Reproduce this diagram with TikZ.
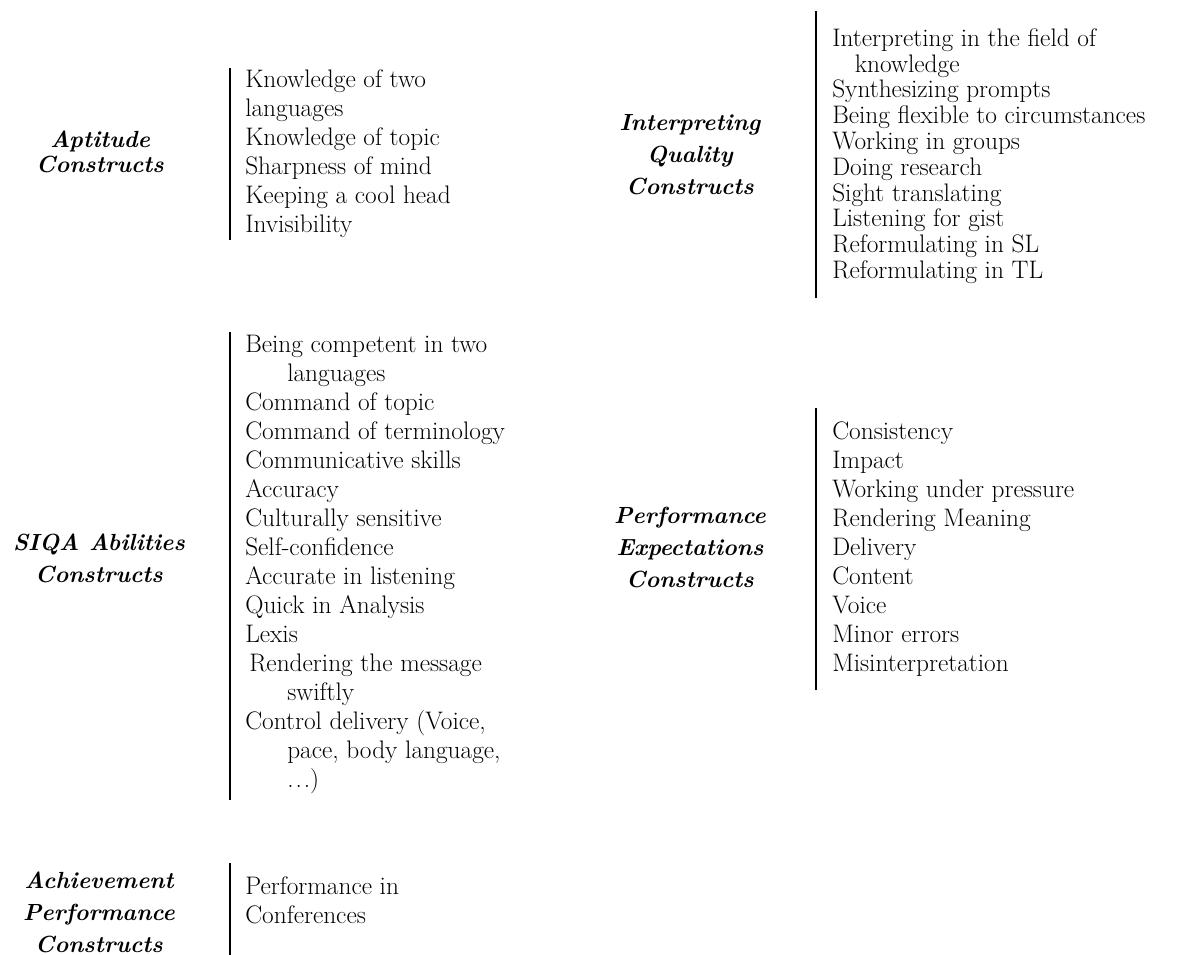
\documentclass[tikz,border=0pt]{standalone}
\usetikzlibrary{positioning}

\begin{document}
\begin{tikzpicture}[x=0.75pt,y=-0.75pt,
    every node/.style={inner sep=0pt},
    construct/.style={align=center,font=\fontsize{17.5}{24}\selectfont\bfseries\itshape},
    items/.style={anchor=west,align=left,font=\fontsize{19}{21.75}\selectfont},
    bar/.style={line width=1.5pt}
   ]
  \useasboundingbox (0,0) rectangle (1179,955);

  % left column
  \node[construct,font=\fontsize{17.5}{18.75}\selectfont\bfseries\itshape] (aptitude) at (100,152) {Aptitude\\Constructs};
  \draw[bar] (230,68) -- (230,240);
  \node[items] (aptitudeList) at (245,154) {Knowledge of two\\languages\\Knowledge of topic\\Sharpness of mind\\Keeping a cool head\\Invisibility};

  \node[construct] (siqa) at (99,558) {SIQA Abilities\\Constructs};
  \draw[bar] (230,332) -- (230,800);
  \node[items] (siqaList) at (245,565) {Being competent in two\\\hspace*{31.5pt}languages\\Command of topic\\Command of terminology\\Communicative skills\\Accuracy\\Culturally sensitive\\Self-confidence\\Accurate in listening\\Quick in Analysis\\Lexis\\\hspace*{3pt}Rendering the message\\\hspace*{31.5pt}swiftly\\Control delivery (Voice,\\\hspace*{31.5pt}pace, body language,\\\hspace*{31.5pt}.\kern1.5pt.\kern1.5pt.)};

  \node[construct] (achievement) at (99,912) {Achievement\\Performance\\Constructs};
  \draw[bar] (230,863) -- (230,955);
  \node[items] (achievementList) at (245,900) {Performance in\\Conferences};

  % right column
  \node[construct] (quality) at (690,155) {Interpreting\\Quality\\Constructs};
  \draw[bar] (816,11) -- (816,298);
  \node[items,font=\fontsize{19}{19.35}\selectfont] (qualityList) at (832,156) {Interpreting in the field of\\\hspace*{17pt}knowledge\\Synthesizing prompts\\Being flexible to circumstances\\Working in groups\\Doing research\\Sight translating\\Listening for gist\\Reformulating in SL\\Reformulating in TL};

  \node[construct] (expectations) at (690,548) {Performance\\Expectations\\Constructs};
  \draw[bar] (816,408) -- (816,690);
  \node[items] (expectationsList) at (832,549) {Consistency\\Impact\\Working under pressure\\Rendering Meaning\\Delivery\\Content\\Voice\\Minor errors\\Misinterpretation};
\end{tikzpicture}
\end{document}
